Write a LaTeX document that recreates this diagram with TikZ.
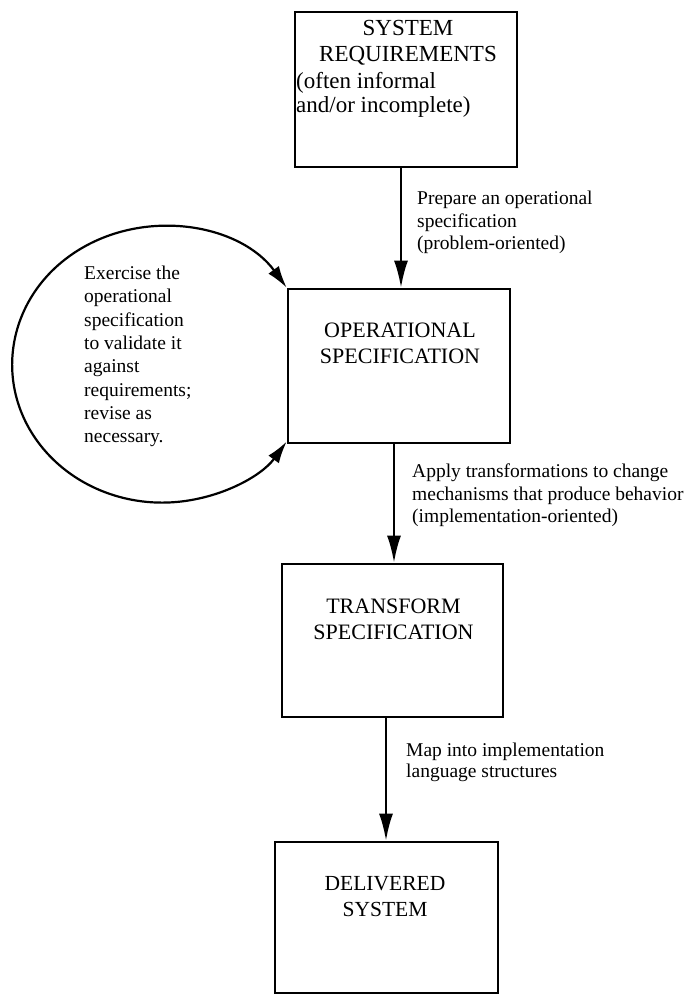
\documentclass[tikz,border=0pt]{standalone}
\usepackage{fontspec}
\setmainfont{Liberation Serif}
\usetikzlibrary{arrows.meta}
\begin{document}
\begin{tikzpicture}[x=1pt,y=-1pt,
  box/.style={draw, line width=2.7pt, inner sep=0pt},
  boxtext/.style={font=\fontsize{22}{26}\selectfont, align=center, inner sep=0pt},
  lbl/.style={font=\fontsize{19.5}{22.6}\selectfont, align=left, inner sep=0pt, anchor=west},
  arr/.style={line width=2.2pt, -{Latex[length=27pt,width=14pt]}},
  looparr/.style={line width=2.2pt, {Latex[length=22pt,width=13pt]}-{Latex[length=22pt,width=13pt]}}
]
\fill[white] (0,0) rectangle (689,997);
\useasboundingbox (0,0) rectangle (689,997);

% boxes
\node[box, minimum width=222pt, minimum height=155pt] (b1) at (406,89.5) {};
\node[box, minimum width=222pt, minimum height=154pt] (b2) at (399,366) {};
\node[box, minimum width=221pt, minimum height=153pt] (b3) at (392.5,640.5) {};
\node[box, minimum width=223pt, minimum height=151pt] (b4) at (386.5,917.5) {};

% box texts
\node[boxtext, font=\fontsize{23}{26.5}\selectfont] (t1a) at (408,42.5) {SYSTEM\\REQUIREMENTS};
\node[boxtext, font=\fontsize{23}{24.5}\selectfont, align=left, anchor=west] (t1b) at (296,95) {(often informal\\and/or incomplete)};
\node[boxtext] (t2) at (400,343) {OPERATIONAL\\SPECIFICATION};
\node[boxtext] (t3) at (393.5,619) {TRANSFORM\\SPECIFICATION};
\node[boxtext, font=\fontsize{21.5}{26.5}\selectfont] (t4) at (385,896.5) {DELIVERED\\SYSTEM};

% connectors
\draw[arr] ([xshift=-5pt]b1.south) -- ([xshift=-5pt]b1.south |- b2.north);
\draw[arr] ([xshift=-5pt]b2.south) -- ([xshift=-5pt]b2.south |- b3.north);
\draw[arr] ([xshift=-6.5pt]b3.south) -- ([xshift=-6.5pt]b3.south |- b4.north);

% loop
\draw[looparr] (b2.north west) arc[start angle=-33.9, end angle=-326.1, x radius=150, y radius=138];

% labels
\node[lbl] (l1) at (417,222.5) {Prepare an operational\\specification\\(problem-oriented)};
\node[lbl] (l2) at (412,495.5) {Apply transformations to change\\mechanisms that produce behavior\\(implementation-oriented)};
\node[lbl, font=\fontsize{19.5}{21.5}\selectfont] (l3) at (406,762.5) {Map into implementation\\language structures};
\node[lbl, font=\fontsize{19.5}{23.3}\selectfont] (lc) at (84,356.5) {Exercise the\\operational\\specification\\to validate it\\against\\requirements;\\revise as\\necessary.};
\end{tikzpicture}
\end{document}
